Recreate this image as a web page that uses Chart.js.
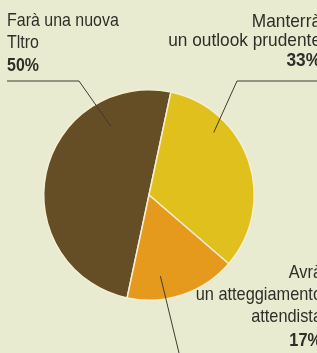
<!DOCTYPE html>
<html>
<head>
<meta charset="utf-8">
<script src="https://cdn.jsdelivr.net/npm/chart.js@4/dist/chart.umd.min.js"></script>
<style>
  html, body { margin: 0; padding: 0; background: #e9ebd0; }
  #wrap { width: 317px; height: 353px; position: relative; }
</style>
</head>
<body>
<div id="wrap"><canvas id="pie"></canvas></div>
<script>
// data
const categories = ['Farà una nuova Tltro', 'Manterrà un outlook prudente', 'Avrà un atteggiamento attendista'];
const shares = [50, 33, 17];
const shareLabels = ['50%', '33%', '17%'];
const sliceColors = ['#654d25', '#e0c01c', '#e59a1e'];

// callout text, line by line
const calloutLines = [
  ['Farà una nuova', 'Tltro'],
  ['Manterrà', 'un outlook prudente'],
  ['Avrà', 'un atteggiamento', 'attendista']
];

// where the callouts sit and where their leader lines go
const callouts = [
  { align: 'left', x: 7, y: [26, 48, 71], size: 19, squeeze: 0.84,
    elbow: [[7, 81], [79, 81]], angle: 331, r: 78 },
  { align: 'right', x: 321, y: [27, 46, 66], size: 19, squeeze: 0.91,
    elbow: [[317, 81], [237, 81]], angle: 46, r: 90 },
  { align: 'right', x: 322, y: [278, 300, 322, 346], size: 19, squeeze: 0.86,
    elbow: [[179, 353]], angle: 172, r: 82 }
];

const calloutPlugin = {
  id: 'callouts',
  afterDatasetsDraw(chart) {
    const ctx = chart.ctx;
    const arc = chart.getDatasetMeta(0).data[0];
    ctx.save();

    callouts.forEach((c, i) => {
      // leader line ends inside the slice
      const a = (c.angle - 90) * Math.PI / 180;
      const ex = arc.x + Math.cos(a) * c.r;
      const ey = arc.y + Math.sin(a) * c.r;
      ctx.strokeStyle = '#3e3d30';
      ctx.lineWidth = 1;
      ctx.beginPath();
      ctx.moveTo(c.elbow[0][0], c.elbow[0][1]);
      c.elbow.slice(1).forEach(p => ctx.lineTo(p[0], p[1]));
      ctx.lineTo(ex, ey);
      ctx.stroke();

      // narrow lettering, like the print
      ctx.save();
      ctx.translate(c.x, 0);
      ctx.scale(c.squeeze, 1);
      ctx.fillStyle = '#2f2f2a';
      ctx.textAlign = c.align;
      ctx.textBaseline = 'alphabetic';
      const lines = calloutLines[i];
      ctx.font = c.size + 'px "Liberation Sans", Arial, sans-serif';
      lines.forEach((t, j) => ctx.fillText(t, 0, c.y[j]));
      ctx.font = 'bold ' + c.size + 'px "Liberation Sans", Arial, sans-serif';
      ctx.fillText(shareLabels[i], 0, c.y[lines.length]);
      ctx.restore();
    });
    ctx.restore();
  }
};

new Chart(document.getElementById('pie'), {
  type: 'pie',
  data: {
    labels: categories,
    datasets: [{
      data: shares,
      backgroundColor: sliceColors,
      borderColor: '#f4eed2',
      borderWidth: 1.5
    }]
  },
  options: {
    responsive: true,
    maintainAspectRatio: false,
    animation: false,
    rotation: 192,
    layout: { padding: { left: 43, right: 62, top: 89, bottom: 52 } },
    plugins: {
      legend: { display: false },
      tooltip: { enabled: false }
    }
  },
  plugins: [calloutPlugin]
});
</script>
</body>
</html>
